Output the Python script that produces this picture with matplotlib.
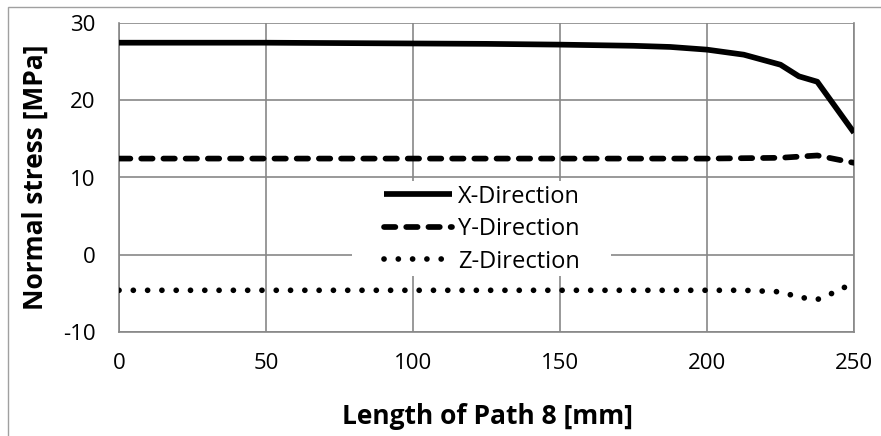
import matplotlib
matplotlib.use("Agg")
import matplotlib.pyplot as plt
from matplotlib.patches import Rectangle

plt.rcParams['font.family'] = ['Open Sans', 'DejaVu Sans']
plt.rcParams['axes.unicode_minus'] = False

# Position along path 8 [mm]
length_x = [0, 25, 50, 75, 100, 125, 150, 175, 187.5, 200, 212.5, 225, 231.25, 237.5, 250]
stress_x = [27.45, 27.45, 27.45, 27.4, 27.35, 27.3, 27.2, 27.05, 26.9, 26.55, 25.9, 24.6, 23.1, 22.4, 15.8]

length_y = [0, 50, 100, 150, 200, 225, 237.5, 250]
stress_y = [12.45, 12.45, 12.45, 12.45, 12.45, 12.55, 12.85, 11.9]

length_z = [0, 50, 100, 150, 200, 212.5, 225, 231.25, 237.5, 243.75, 250]
stress_z = [-4.6, -4.6, -4.6, -4.6, -4.6, -4.6, -4.8, -5.5, -5.8, -4.8, -3.6]

x_ticks = [0, 50, 100, 150, 200, 250]
y_ticks = [-10, 0, 10, 20, 30]

fig = plt.figure(figsize=(8.81, 4.36), dpi=100)
ax = fig.add_axes([119 / 881, 1 - 332 / 436, (854 - 119) / 881, (332 - 23) / 436])

grid_c = '#878787'
lw = 4.1
ax.plot(length_x, stress_x, color='black', lw=lw, solid_capstyle='butt',
        label='X-Direction', zorder=3)
ax.plot(length_y, stress_y, color='black', lw=lw, linestyle=(0, (2.0, 1.9)),
        dash_capstyle='round', label='Y-Direction', zorder=3)
ax.plot(length_z, stress_z, color='black', lw=lw, linestyle=(0, (0.01, 2.5)),
        dash_capstyle='round', label='Z-Direction', zorder=3)

ax.set_xlim(0, 250)
ax.set_ylim(-10, 30)
ax.set_xticks(x_ticks)
ax.set_yticks(y_ticks)
ax.grid(True, color=grid_c, lw=1.2)
ax.set_axisbelow(True)
for s in ax.spines.values():
    s.set_color(grid_c)
    s.set_linewidth(1.2)
ax.spines['top'].set_visible(False)
ax.tick_params(length=0, labelsize=16, colors='black')
ax.tick_params(axis='y', pad=17)
ax.tick_params(axis='x', pad=15)

ax.set_xlabel('Length of Path 8 [mm]', fontsize=19, fontweight='bold')
ax.set_ylabel('Normal stress [MPa]', fontsize=19, fontweight='bold')
ax.xaxis.label.set_va('center')
ax.yaxis.label.set_va('center')
ax.xaxis.set_label_coords((487 - 119) / 735, (332 - 416) / 309)
ax.yaxis.set_label_coords((35 - 119) / 735, 0.5)

# White legend area sitting over the gridlines
ax.add_patch(Rectangle(((352 - 119) / 735, (332 - 276) / 309), (611 - 352) / 735, (276 - 181) / 309,
                       transform=ax.transAxes, facecolor='white', edgecolor='none', zorder=2))

leg = ax.legend(loc='center', bbox_to_anchor=((482 - 119) / 735, (332 - 229) / 309),
                frameon=False, fontsize=17, handlelength=2.9, handletextpad=0.25,
                labelspacing=0.36, borderpad=0.3, borderaxespad=0)

# Outer chart border (top and left edges fall inside the canvas)
fig.patches.append(Rectangle((8 / 881, -0.1), 1.2, 1.1 - 7 / 436,
                             transform=fig.transFigure, fill=False,
                             edgecolor='#a0a0a0', lw=1.0))

fig.savefig('out.png', dpi=100)
